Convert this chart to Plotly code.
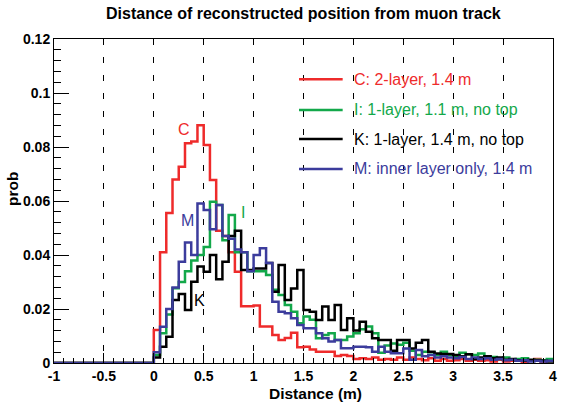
import numpy as np
import plotly.graph_objects as go

# ---------------- data ----------------
bin_lo = -1.0
bin_hi = 4.0
bin_width = 0.0625
n_empty = 16  # bins from -1 to 0 are empty

C_vals = [0.0122, 0.041, 0.0556, 0.068, 0.0727, 0.0814, 0.082, 0.0881, 0.0807, 0.0678,
          0.049, 0.047, 0.041, 0.0338, 0.021, 0.021, 0.0213, 0.0135, 0.0135, 0.0104,
          0.0085, 0.0093, 0.0112, 0.0058, 0.006, 0.005, 0.0042, 0.0042, 0.0042, 0.0026,
          0.003, 0.0026, 0.0015, 0.0018, 0.0015, 0.002, 0.0012, 0.0015, 0.0012, 0.002,
          0.0012, 0.002, 0.0015, 0.001, 0.0018, 0.0008, 0.0015, 0.0008, 0.001, 0.0015,
          0.0008, 0.0012, 0.0008, 0.001, 0.0006, 0.0012, 0.0006, 0.0008, 0.001, 0.0005,
          0.0008, 0.0015, 0.0006, 0.0008]

I_vals = [0.003, 0.011, 0.018, 0.0277, 0.030, 0.034, 0.038, 0.040, 0.043, 0.0597,
          0.0585, 0.0455, 0.0548, 0.041, 0.041, 0.034, 0.034, 0.034, 0.0326, 0.0271,
          0.0252, 0.0215, 0.019, 0.0147, 0.0172, 0.016, 0.0092, 0.0104, 0.011, 0.0085,
          0.0085, 0.0098, 0.011, 0.0125, 0.0135, 0.011, 0.0038, 0.0065, 0.0072, 0.0068,
          0.0075, 0.0045, 0.003, 0.0042, 0.004, 0.003, 0.0042, 0.003, 0.0025, 0.0038,
          0.0032, 0.003, 0.0035, 0.002, 0.0022, 0.0015, 0.002, 0.0012, 0.0015, 0.0018,
          0.001, 0.0012, 0.001, 0.0015]

K_vals = [0.002, 0.006, 0.0097, 0.0233, 0.0256, 0.0196, 0.0301, 0.0357, 0.0338, 0.040,
          0.031, 0.0375, 0.047, 0.049, 0.0344, 0.0344, 0.035, 0.035, 0.037, 0.0264,
          0.0363, 0.0233, 0.0276, 0.0344, 0.0196, 0.019, 0.0159, 0.0209, 0.0159, 0.0215,
          0.0122, 0.0166, 0.012, 0.0153, 0.0116, 0.0092, 0.0085, 0.0085, 0.0045, 0.0085,
          0.0085, 0.0054, 0.0075, 0.0085, 0.0042, 0.0035, 0.0033, 0.0033, 0.003, 0.0025,
          0.0032, 0.0015, 0.002, 0.0025, 0.0018, 0.002, 0.0012, 0.0015, 0.001, 0.0008,
          0.0012, 0.001, 0.0008, 0.0006]

M_vals = [0.004, 0.0134, 0.020, 0.028, 0.0375, 0.0446, 0.040, 0.0591, 0.0567, 0.0495,
          0.0585, 0.047, 0.046, 0.042, 0.041, 0.034, 0.040, 0.0425, 0.037, 0.0227,
          0.019, 0.0184, 0.0166, 0.0141, 0.0129, 0.0129, 0.011, 0.0092, 0.008, 0.0085,
          0.0055, 0.0055, 0.006, 0.006, 0.0058, 0.0042, 0.006, 0.0042, 0.0036, 0.0036,
          0.0054, 0.0012, 0.0048, 0.0025, 0.003, 0.002, 0.0025, 0.002, 0.0018, 0.0022,
          0.0015, 0.002, 0.0015, 0.0018, 0.0012, 0.0015, 0.001, 0.0012, 0.0008, 0.001,
          0.0006, 0.0008, 0.0006, 0.0008]

series_names = ["C: 2-layer, 1.4 m", "I: 1-layer, 1.1 m, no top",
                "K: 1-layer, 1.4 m, no top", "M: inner layer only, 1.4 m"]
series_vals = [C_vals, I_vals, K_vals, M_vals]
series_colors = ["#ee2b2b", "#13a84a", "#000000", "#3c3c9c"]

# in-plot curve labels
curve_labels = ["C", "I", "K", "M"]
curve_label_x = [0.30, 0.89, 0.46, 0.34]
curve_label_y = [0.0863, 0.0556, 0.0233, 0.0526]

x_tickvals = [-1, -0.5, 0, 0.5, 1, 1.5, 2, 2.5, 3, 3.5, 4]
x_ticktext = ["-1", "-0.5", "0", "0.5", "1", "1.5", "2", "2.5", "3", "3.5", "4"]
y_tickvals = [0, 0.02, 0.04, 0.06, 0.08, 0.1, 0.12]
y_ticktext = ["0", "0.02", "0.04", "0.06", "0.08", "0.1", "0.12"]

title_text = "Distance of reconstructed position from muon track"
x_title = "Distance (m)"
y_title = "prob"

# ---------------- figure ----------------
FONT = "Liberation Sans, Arial, Helvetica, sans-serif"
edges = np.arange(bin_lo, bin_hi + bin_width / 2, bin_width)

fig = go.Figure()
for name, vals, col in zip(series_names, series_vals, series_colors):
    y = [0.0] * n_empty + list(vals)
    y = y + [y[-1]]
    fig.add_trace(go.Scatter(x=edges, y=y, mode="lines", name=name,
                             line=dict(color=col, width=2.5, shape="hv"),
                             showlegend=False, hoverinfo="skip"))

# legend drawn manually (ROOT-style TLegend)
leg_rows_y = [0.876, 0.781, 0.691, 0.599]
for name, col, yy in zip(series_names, series_colors, leg_rows_y):
    fig.add_shape(type="line", xref="paper", yref="paper",
                  x0=0.491, x1=0.5785, y0=yy, y1=yy,
                  line=dict(color=col, width=2.5))
    fig.add_annotation(xref="paper", yref="paper", x=0.5964, y=yy,
                       xanchor="left", yanchor="middle", text=name,
                       showarrow=False, font=dict(family=FONT, size=16, color=col))

for lab, lx, ly, col in zip(curve_labels, curve_label_x, curve_label_y, series_colors):
    fig.add_annotation(x=lx, y=ly, text=lab, showarrow=False,
                       font=dict(family=FONT, size=16, color=col))

fig.add_annotation(xref="paper", yref="paper", x=0.5, y=1, yshift=26,
                   xanchor="center", yanchor="middle", text=title_text,
                   showarrow=False, font=dict(family=FONT, size=16, color="black", weight="bold"))
fig.add_annotation(xref="paper", yref="paper", x=0.525, y=0, yshift=-30,
                   xanchor="center", yanchor="middle", text=x_title,
                   showarrow=False, font=dict(family=FONT, size=15.5, color="black", weight="bold"))
fig.add_annotation(xref="paper", yref="paper", x=0, y=0.5, xshift=-42, yshift=12,
                   xanchor="center", yanchor="middle", text=y_title, textangle=-90,
                   showarrow=False, font=dict(family=FONT, size=15.5, color="black", weight="bold"))

fig.update_xaxes(range=[bin_lo, bin_hi], tickmode="array", tickvals=x_tickvals,
                 ticktext=x_ticktext, ticks="inside", ticklen=10, tickwidth=1,
                 tickcolor="black", showline=True, linecolor="black", linewidth=1,
                 mirror=True, showgrid=True, gridcolor="black", gridwidth=1,
                 griddash="6px,12px", zeroline=False,
                 tickfont=dict(family=FONT, size=14, color="black", weight="bold"),
                 minor=dict(ticks="inside", ticklen=5, tick0=-1, dtick=0.1,
                            tickcolor="black", showgrid=False))
fig.update_yaxes(range=[0, 0.12], tickmode="array", tickvals=y_tickvals,
                 ticktext=y_ticktext, ticks="inside", ticklen=15, tickwidth=1,
                 tickcolor="black", showline=True, linecolor="black", linewidth=1,
                 mirror=True, showgrid=False, zeroline=False,
                 tickfont=dict(family=FONT, size=14, color="black", weight="bold"),
                 minor=dict(ticks="inside", ticklen=7, tick0=0, dtick=0.004,
                            tickcolor="black", showgrid=False))

fig.update_layout(width=565, height=402, margin=dict(l=54, r=8, t=39, b=39),
                  paper_bgcolor="white", plot_bgcolor="white", showlegend=False,
                  font=dict(family=FONT, color="black"))

fig.write_html("out.html", config={"displayModeBar": False, "staticPlot": True},
               post_script="document.body.style.margin='0';document.body.style.overflow='hidden';")
